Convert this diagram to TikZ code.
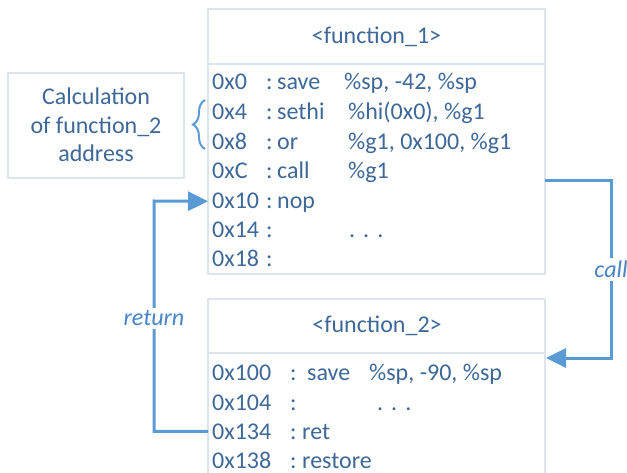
\documentclass[tikz,border=0pt]{standalone}
\usepackage{fontspec}
\setmainfont{Carlito}
\usetikzlibrary{arrows.meta,decorations.pathreplacing}
\definecolor{txtc}{RGB}{62,104,152}
\definecolor{lblc}{RGB}{72,132,198}
\definecolor{linec}{RGB}{91,155,213}
\definecolor{boxc}{RGB}{222,228,235}
\begin{document}
\begin{tikzpicture}[x=1pt,y=-1pt,
  font=\fontsize{24}{28.5}\selectfont,
  boxr/.style={draw=boxc,line width=2pt,fill=none,inner sep=0pt},
  txt/.style={text=txtc,inner sep=0pt,anchor=base west},
  row/.style={text=txtc,inner xsep=4pt,inner ysep=0pt,anchor=base west},
  ttl/.style={text=txtc,inner sep=0pt,anchor=base},
  conn/.style={draw=linec,line width=3pt},
  tip/.style={-{Triangle[length=20pt,width=19pt]}},
  lbl/.style={fill=white,text=lblc,font=\fontsize{24}{28}\selectfont\itshape,inner xsep=1pt,inner ysep=3pt}]
\useasboundingbox (0,0) rectangle (627,473);
% boxes
\draw[boxr] (208,9) rectangle (545,64);
\draw[boxr] (208,64) rectangle (545,274);
\draw[boxr] (8,73) rectangle (184,178);
\draw[boxr] (208,299) rectangle (545,353);
\draw[boxr] (208,353) rectangle (545,490);
% titles
\node[ttl] (t1) at (376.5,44) {<function\_1>};
\node[ttl] (t2) at (377,333) {<function\_2>};
% calculation text
\node[text=txtc,align=center,inner sep=0pt,anchor=base] (calc) at (96,162)
  {Calculation\\of function\_2\\address};
% function 1 rows
\node[row] (a0) at (208,90) {0x0};
\node[txt] at (266,90) {:};
\node[txt] at (277,90) {save};
\node[txt] at (344,90) {\%sp, -42, \%sp};
\node[row] (a4) at (208,120) {0x4};
\node[txt] at (266,120) {:};
\node[txt] at (277,120) {sethi};
\node[txt] at (348,120) {\%hi(0x0), \%g1};
\node[row] (a8) at (208,150) {0x8};
\node[txt] at (266,150) {:};
\node[txt] at (277,150) {or};
\node[txt] at (348,150) {\%g1, 0x100, \%g1};
\node[row] (ac) at (208,179) {0xC};
\node[txt] at (266,179) {:};
\node[txt] at (277,179) {call};
\node[txt] at (348,179) {\%g1};
\node[row] (a10) at (208,209) {0x10};
\node[txt] at (266,209) {:};
\node[txt] at (277,209) {nop};
\node[row] (a14) at (208,238) {0x14};
\node[txt] at (266,238) {:};
\node[txt] at (349,238) {.\,\,.\,\,.};
\node[row] (a18) at (208,267) {0x18};
\node[txt] at (266,267) {:};
% function 2 rows
\node[row] (b100) at (208,380) {0x100};
\node[txt] at (290,380) {:};
\node[txt] at (307,380) {save};
\node[txt] at (369,380) {\%sp, -90, \%sp};
\node[row] (b104) at (208,410) {0x104};
\node[txt] at (290,410) {:};
\node[txt] at (377,410) {.\,\,.\,\,.};
\node[row] (b134) at (208,439) {0x134};
\node[txt] at (290,439) {:};
\node[txt] at (302,439) {ret};
\node[row] (b138) at (208,468.5) {0x138};
\node[txt] at (290,468.5) {:};
\node[txt] at (302,468.5) {restore};
% brace
\draw[draw=linec,line width=2pt,decorate,decoration={brace,amplitude=12pt}] (205,149) -- (205,100);
% call connector
\coordinate (callstart) at (545,181);
\coordinate (callend) at (546,358);
\coordinate (cr1) at (611,181);
\coordinate (cr2) at (611,358);
\draw[conn,tip] (callstart) -- (cr1) -- node[lbl,pos=0.5]{call} (cr2) -- (callend);
% return connector
\coordinate (rb) at (154,201);
\draw[conn,tip] (b134.west) -- (b134.west -| rb) -- node[lbl,pos=0.49]{return} (rb) -- (a10.west);
\end{tikzpicture}
\end{document}
